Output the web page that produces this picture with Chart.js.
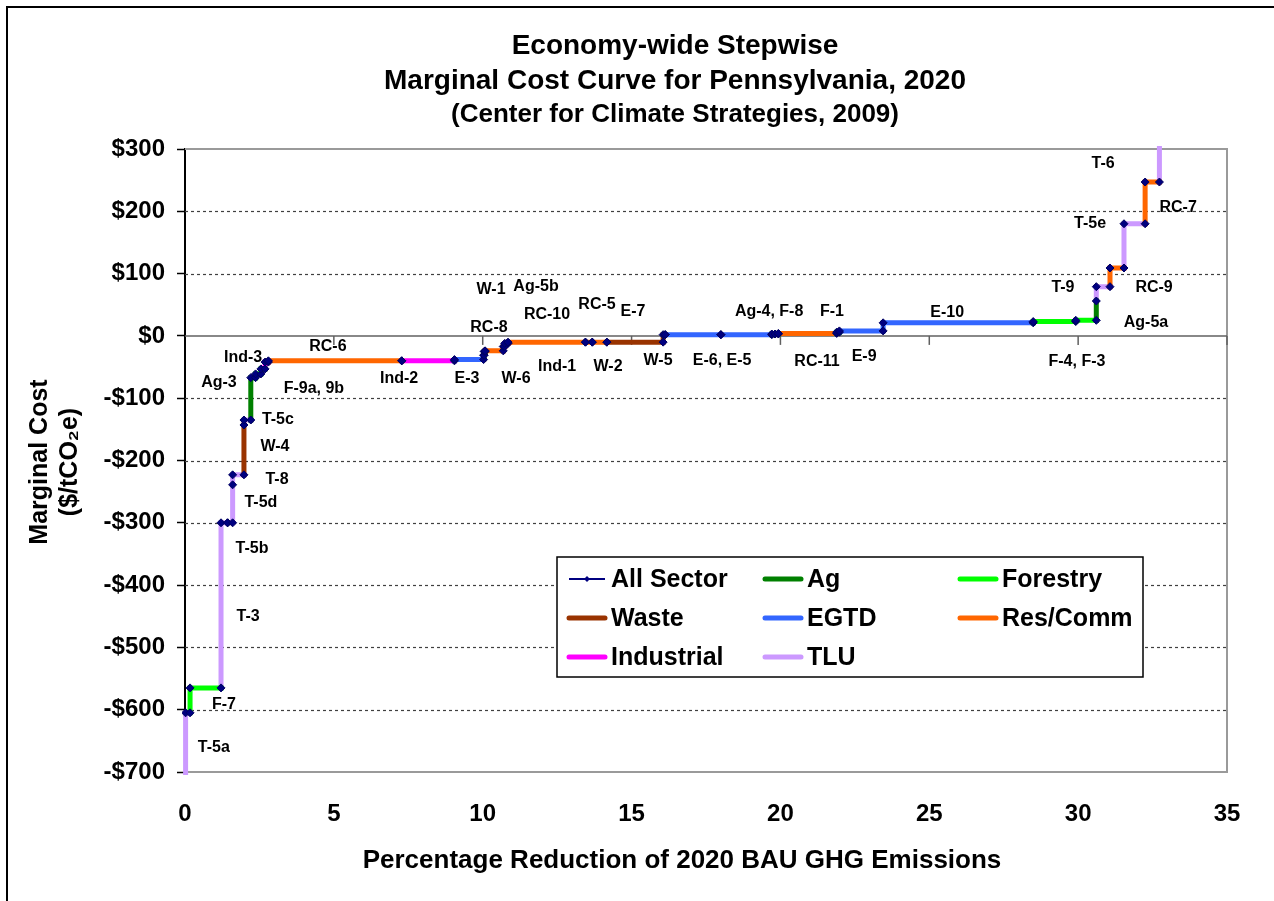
<!DOCTYPE html>
<html><head><meta charset="utf-8">
<script src="https://cdn.jsdelivr.net/npm/chart.js@4.4.0/dist/chart.umd.min.js"></script>
<style>html,body{margin:0;padding:0;background:#fff;}#wrap{width:1274px;height:901px;position:relative;}</style>
</head><body><div id="wrap"><canvas id="c" width="1274" height="901"></canvas></div>
<script>
// ---------------- data ----------------
const measureNames  = ['T-5a','F-7','T-3','T-5b','T-5d','T-8','W-4','T-5c','Ag-3','F-9a','F-9b','Ind-3','RC-6','Ind-2','E-3','W-1','Ag-5b','RC-8','W-6','Ind-1','RC-10','RC-5','E-7','W-2','W-5','E-6','E-5','Ag-4','F-8','RC-11','F-1','E-9','E-10','F-4','F-3','Ag-5a','T-9','RC-9','T-5e','RC-7','T-6'];
const measureEnd    = [0.17,1.21,1.43,1.60,1.60,1.98,1.98,2.21,2.37,2.55,2.69,2.80,7.28,9.05,10.03,10.05,10.08,10.69,10.74,10.85,13.45,13.68,14.17,16.06,16.13,18.00,19.71,19.82,19.93,21.89,21.98,23.45,28.49,29.92,30.61,30.61,31.07,31.54,32.25,32.73,32.73];
const measureCost   = [-605,-565,-300,-300,-239,-223,-143,-135,-67,-61,-53,-42,-40,-40,-38,-31,-25,-24,-17,-12,-10,-10,-10,-10,2,2,2,3,3,4,6,8,21,23,25,56,79,109,180,247,310];
const measureSector = ['TLU','Forestry','TLU','TLU','TLU','TLU','Waste','TLU','Ag','Forestry','Forestry','Industrial','Res/Comm','Industrial','EGTD','Waste','Ag','Res/Comm','Waste','Industrial','Res/Comm','Res/Comm','Res/Comm','Waste','Waste','EGTD','EGTD','Ag','Forestry','Res/Comm','Forestry','EGTD','EGTD','Forestry','Forestry','Ag','TLU','Res/Comm','TLU','Res/Comm','TLU'];
const curveStartX = 0.02;
const curveStartCost = -710;

const sectorNames  = ['All Sector','Ag','Forestry','Waste','EGTD','Res/Comm','Industrial','TLU'];
const sectorColors = ['#000080','#008000','#00FF00','#993300','#3366FF','#FF6600','#FF00FF','#CC99FF'];

const xTickValues = [0,5,10,15,20,25,30,35];
const yTickValues = [-700,-600,-500,-400,-300,-200,-100,0,100,200,300];

const labelTexts = ['T-5a','F-7','T-3','T-5b','T-5d','T-8','W-4','T-5c','Ag-3','F-9a, 9b','Ind-3','RC-6','Ind-2','E-3','RC-8','W-1','Ag-5b','RC-10','W-6','Ind-1','RC-5','E-7','W-2','W-5','E-6, E-5','Ag-4, F-8','RC-11','F-1','E-9','E-10','F-4, F-3','Ag-5a','T-9','RC-9','T-5e','RC-7','T-6'];
const labelX = [0.97,1.31,2.12,2.25,2.55,3.09,3.02,3.12,1.14,4.33,1.95,4.80,7.19,9.47,10.21,10.28,11.79,12.16,11.12,12.50,13.84,15.05,14.21,15.89,18.04,19.62,21.23,21.73,22.81,25.6,29.96,32.28,29.49,32.55,30.4,33.36,30.84];
const labelY = [-661,-592,-451,-342,-268,-231,-178,-135,-75,-85,-35,-17,-69,-69,14,75,79,34,-69,-50,51,39,-50,-40,-40,39,-42,39,-34,37,-42,22,77,77,180,206,276];

const titleLines = ['Economy-wide Stepwise','Marginal Cost Curve for Pennsylvania, 2020','(Center for Climate Strategies, 2009)'];
const xTitle = 'Percentage Reduction of 2020 BAU GHG Emissions';
const yTitleLines = ['Marginal Cost','($/tCO\u2082e)'];

// ---------------- build datasets ----------------
const FONT = '"Liberation Sans", Arial, Helvetica, sans-serif';
const allPts = [{x:curveStartX, y:curveStartCost}];
const markerPts = [];
const sectorPts = {};
sectorNames.slice(1).forEach(s => sectorPts[s] = []);
let prevX = curveStartX, prevC = curveStartCost;
for (let i = 0; i < measureEnd.length; i++) {
  const s = measureSector[i], c = measureCost[i], e = measureEnd[i];
  const arr = sectorPts[s];
  arr.push({x:prevX, y:prevC}, {x:prevX, y:c}, {x:e, y:c}, {x:e, y:null});
  allPts.push({x:prevX, y:c}, {x:e, y:c});
  markerPts.push({x:prevX, y:c});
  if (e !== prevX) markerPts.push({x:e, y:c});
  prevX = e; prevC = c;
}
const datasets = [];
datasets.push({label:'markers', data:markerPts, showLine:false, pointStyle:'rectRot', pointRadius:4,
  pointBackgroundColor:'#000080', pointBorderColor:'#000060', pointBorderWidth:1, order:0, clip:3});
sectorNames.slice(1).forEach((s, k) => {
  datasets.push({label:s, data:sectorPts[s], borderColor:sectorColors[k+1], borderWidth:5,
    pointRadius:0, spanGaps:false, tension:0, borderCapStyle:'square', borderJoinStyle:'miter', order:1, clip:3});
});
datasets.push({label:'All Sector', data:allPts, borderColor:'#000080', borderWidth:1, pointRadius:0, tension:0, order:2, clip:3});

// ---------------- decor plugin ----------------
const decor = {
  id:'decor',
  beforeDraw(chart) {
    const ctx = chart.ctx;
    ctx.save();
    ctx.fillStyle = '#fff'; ctx.fillRect(0,0,chart.width,chart.height);
    ctx.strokeStyle = '#000'; ctx.lineWidth = 2;
    ctx.strokeRect(7,7,chart.width+20,chart.height+20);
    ctx.restore();
  },
  beforeDatasetsDraw(chart) {
    const {ctx, chartArea:a, scales:{x,y}} = chart;
    ctx.save();
    ctx.strokeStyle = '#404040'; ctx.lineWidth = 1.2; ctx.setLineDash([3,3]);
    yTickValues.forEach(v => {
      if (v === 0 || v === yTickValues[0] || v === yTickValues[yTickValues.length-1]) return;
      const py = Math.round(y.getPixelForValue(v)) + 0.5;
      ctx.beginPath(); ctx.moveTo(a.left, py); ctx.lineTo(a.right, py); ctx.stroke();
    });
    ctx.setLineDash([]);
    ctx.strokeStyle = '#9a9a9a'; ctx.lineWidth = 2;
    ctx.beginPath(); ctx.moveTo(a.left, a.top); ctx.lineTo(a.right, a.top); ctx.lineTo(a.right, a.bottom); ctx.lineTo(a.left, a.bottom); ctx.stroke();
    const y0 = y.getPixelForValue(0);
    ctx.strokeStyle = '#606060'; ctx.lineWidth = 1.5;
    ctx.beginPath(); ctx.moveTo(a.left, y0); ctx.lineTo(a.right, y0); ctx.stroke();
    xTickValues.forEach(v => {
      if (v === xTickValues[0]) return;
      const px = x.getPixelForValue(v);
      ctx.beginPath(); ctx.moveTo(px, y0); ctx.lineTo(px, y0 + 9); ctx.stroke();
    });
    ctx.restore();
  },
  afterDatasetsDraw(chart) {
    const {ctx, scales:{x,y}} = chart;
    ctx.save();
    ctx.fillStyle = '#000';
    ctx.font = 'bold 16px ' + FONT;
    ctx.textAlign = 'center'; ctx.textBaseline = 'middle';
    labelTexts.forEach((t, i) => ctx.fillText(t, x.getPixelForValue(labelX[i]), y.getPixelForValue(labelY[i])));
    ctx.restore();
  },
  afterDraw(chart) {
    const ctx = chart.ctx;
    ctx.save();
    ctx.fillStyle = '#000'; ctx.textAlign = 'center'; ctx.textBaseline = 'middle';
    ctx.font = 'bold 28px ' + FONT; ctx.fillText(titleLines[0], 675, 46);
    ctx.fillText(titleLines[1], 675, 81);
    ctx.font = 'bold 26px ' + FONT; ctx.fillText(titleLines[2], 675, 115);
    ctx.font = 'bold 26px ' + FONT; ctx.fillText(xTitle, 682, 861);
    ctx.font = 'bold 25px ' + FONT;
    ctx.save(); ctx.translate(40, 462); ctx.rotate(-Math.PI/2);
    ctx.fillText(yTitleLines[0], 0, 0); ctx.restore();
    ctx.save(); ctx.translate(70, 462); ctx.rotate(-Math.PI/2);
    ctx.fillText(yTitleLines[1], 0, 0); ctx.restore();
    const L = 557, T = 557, W = 586, H = 120;
    ctx.fillStyle = '#fff'; ctx.fillRect(L, T, W, H);
    ctx.strokeStyle = '#000'; ctx.lineWidth = 1.5; ctx.strokeRect(L, T, W, H);
    const colX = [569, 765, 960], rowY = [579, 618, 657];
    ctx.font = 'bold 25px ' + FONT; ctx.textAlign = 'left';
    sectorNames.forEach((s, i) => {
      const cx = colX[i % 3], cy = rowY[Math.floor(i / 3)];
      ctx.strokeStyle = sectorColors[i];
      if (i === 0) {
        ctx.lineWidth = 2;
        ctx.beginPath(); ctx.moveTo(cx, cy); ctx.lineTo(cx + 36, cy); ctx.stroke();
        ctx.fillStyle = '#000080';
        ctx.beginPath(); ctx.moveTo(cx+18, cy-3); ctx.lineTo(cx+21, cy); ctx.lineTo(cx+18, cy+3); ctx.lineTo(cx+15, cy); ctx.closePath(); ctx.fill();
      } else {
        ctx.lineWidth = 5; ctx.lineCap = 'round';
        ctx.beginPath(); ctx.moveTo(cx, cy); ctx.lineTo(cx + 36, cy); ctx.stroke();
      }
      ctx.fillStyle = '#000';
      ctx.fillText(s, cx + 42, cy + 1);
    });
    ctx.restore();
  }
};

new Chart(document.getElementById('c'), {
  type:'line',
  data:{datasets},
  plugins:[decor],
  options:{
    responsive:false, animation:false, devicePixelRatio:1, events:[],
    layout:{padding:{left:0, top:149, right:47, bottom:0}},
    plugins:{legend:{display:false}, tooltip:{enabled:false}, title:{display:false}},
    scales:{
      x:{type:'linear', min:0, max:35, position:'bottom',
        afterFit(s){ s.height = 129; },
        afterBuildTicks(s){ s.ticks = xTickValues.map(v => ({value:v})); },
        grid:{display:false}, border:{display:false},
        ticks:{color:'#000', font:{family:FONT, size:24, weight:'bold'}, padding:20, maxRotation:0}},
      y:{type:'linear', min:-700, max:300,
        afterFit(s){ s.width = 185; },
        afterBuildTicks(s){ s.ticks = yTickValues.map(v => ({value:v})); },
        grid:{display:true, drawOnChartArea:false, drawTicks:true, tickLength:8, tickColor:'#000', tickWidth:1.5, color:'#000'},
        border:{display:true, color:'#000', width:2},
        ticks:{color:'#000', font:{family:FONT, size:24, weight:'bold'}, padding:12,
          callback:v => (v < 0 ? '-$' + Math.abs(v) : '$' + v)}}
    }
  }
});
</script></body></html>
